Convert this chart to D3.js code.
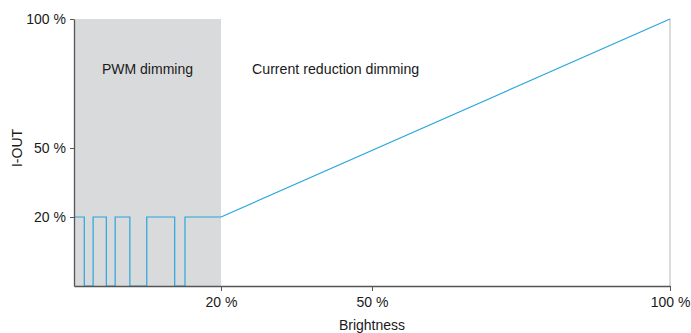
<!DOCTYPE html>
<html>
<head>
<meta charset="utf-8">
<script src="https://cdn.jsdelivr.net/npm/d3@7"></script>
<style>
  body { margin: 0; background: #fff; }
  svg text { font-family: "Liberation Sans", Arial, sans-serif; fill: #1a1a1a; }
</style>
</head>
<body>
<svg id="chart"></svg>
<script>
var width = 691,
    height = 333;

// axis ticks (the drawing is not to scale, so the scales are piecewise)
var xTicks = [20, 50, 100];
var yTicks = [20, 50, 100];

// PWM signal: brightness where the output switches, and the level after each switch
var pwmX =     [0,  1.4, 2.6, 4.4, 5.6, 7.6, 9.9, 13.7, 15.1, 20];
var pwmLevel = [20, 0,   20,  0,   20,  0,   20,  0,    20,   20];

// current reduction: straight line from 20 % to 100 %
var crX = [20, 100];
var crY = [20, 100];

var x = d3.scaleLinear()
    .domain([0, 20, 50, 100])
    .range([74, 221, 372, 670]);

var y = d3.scaleLinear()
    .domain([0, 20, 50, 100])
    .range([286, 217, 148, 19]);

var svg = d3.select("#chart")
    .attr("width", width)
    .attr("height", height);

// shaded PWM zone
svg.append("rect")
    .attr("x", x(0))
    .attr("y", y(100))
    .attr("width", x(20) - x(0))
    .attr("height", y(0) - y(100))
    .attr("fill", "#d9dadb");

// thin right border at 100 %
svg.append("line")
    .attr("x1", x(100)).attr("x2", x(100))
    .attr("y1", y(100)).attr("y2", y(0))
    .attr("stroke", "#b8b8b8")
    .attr("stroke-width", 1);

svg.append("text")
    .attr("x", (x(0) + x(20)) / 2)
    .attr("y", 74)
    .attr("text-anchor", "middle")
    .style("font-size", "14px")
    .text("PWM dimming");

svg.append("text")
    .attr("x", 252)
    .attr("y", 74)
    .style("font-size", "14.2px")
    .text("Current reduction dimming");

// PWM square wave
var pwmPts = [];
pwmX.forEach(function(v, i) {
    if (i > 0) pwmPts.push([v, pwmLevel[i - 1]]);
    pwmPts.push([v, pwmLevel[i]]);
});

var line = d3.line()
    .x(function(d) { return x(d[0]); })
    .y(function(d) { return y(d[1]); });

svg.append("path")
    .datum(pwmPts)
    .attr("d", line)
    .attr("fill", "none")
    .attr("stroke", "#2aa6dd")
    .attr("stroke-width", 1.2);

svg.append("path")
    .datum(crX.map(function(v, i) { return [v, crY[i]]; }))
    .attr("d", line)
    .attr("fill", "none")
    .attr("stroke", "#2aa6dd")
    .attr("stroke-width", 1.2);

// axes
var xAxis = svg.append("g")
    .attr("transform", "translate(0," + y(0) + ")")
    .call(d3.axisBottom(x).tickValues(xTicks).tickSize(5).tickSizeOuter(0)
        .tickFormat(function(d) { return d + " %"; }));

var yAxis = svg.append("g")
    .attr("transform", "translate(" + x(0) + ",0)")
    .call(d3.axisLeft(y).tickValues(yTicks).tickSize(4).tickSizeOuter(0)
        .tickFormat(function(d) { return d + " %"; }));

[xAxis, yAxis].forEach(function(g) {
    g.select(".domain").attr("stroke", "#555").attr("stroke-width", 1.3);
    g.selectAll(".tick line").attr("stroke", "#555");
    g.selectAll(".tick text")
        .style("font-family", "'Liberation Sans', Arial, sans-serif")
        .style("font-size", "14px")
        .attr("fill", "#1a1a1a");
});
xAxis.selectAll(".tick text").attr("dy", "0.9em");
yAxis.selectAll(".tick text").attr("x", -8);

svg.append("text")
    .attr("x", x(50))
    .attr("y", 330)
    .attr("text-anchor", "middle")
    .style("font-size", "14px")
    .text("Brightness");

svg.append("text")
    .attr("transform", "translate(22," + y(50) + ") rotate(-90)")
    .attr("text-anchor", "middle")
    .style("font-size", "14px")
    .text("I-OUT");
</script>
</body>
</html>
